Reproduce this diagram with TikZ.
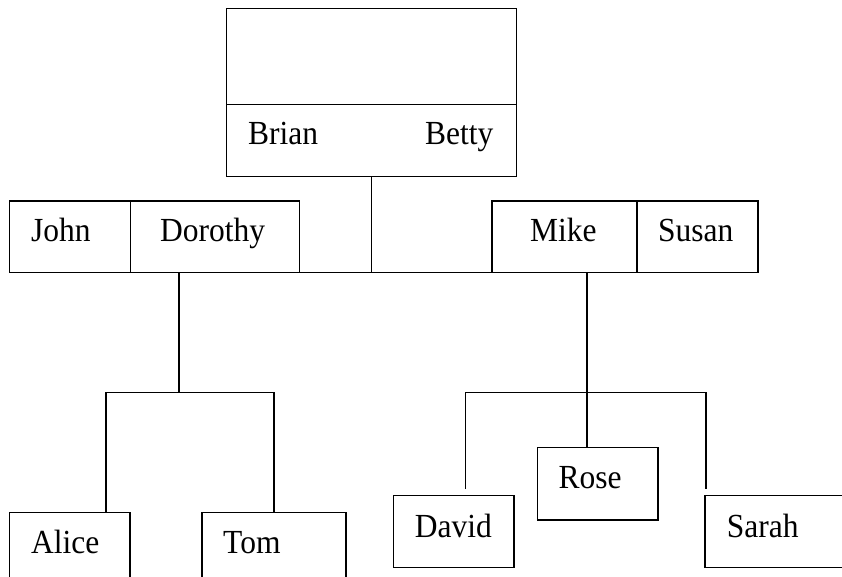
\documentclass[tikz,border=0pt]{standalone}
\usepackage{fontspec}
\setmainfont{Liberation Serif}
\newcommand{\nmtxt}[1]{\scalebox{1}[1.07]{#1}}
\begin{document}
\begin{tikzpicture}[x=1pt,y=-1pt,
  box/.style={draw, line width=1.5pt, inner sep=0pt, outer sep=0pt, anchor=north west},
  lbl/.style={anchor=base west, inner sep=0pt, font=\fontsize{31.5}{36}\selectfont},
  link/.style={line width=1.5pt}]
\useasboundingbox (0,0) rectangle (842,577);
\clip (0,0) rectangle (842,577);
% boxes
\node[box, minimum width=289.8pt, minimum height=96pt] (top) at (226.7,8.7) {};
\node[box, minimum width=289.8pt, minimum height=72pt] (couple) at (226.7,104.7) {};
\node[box, minimum width=120.9pt, minimum height=71.7pt] (john) at (9.7,201) {};
\node[box, minimum width=168.9pt, minimum height=71.7pt] (dorothy) at (130.6,201) {};
\node[box, minimum width=145pt, minimum height=71.7pt] (mike) at (492,201) {};
\node[box, minimum width=121pt, minimum height=71.7pt] (susan) at (637,201) {};
\node[box, minimum width=120.3pt, minimum height=100pt] (alice) at (9.7,512.7) {};
\node[box, minimum width=144pt, minimum height=100pt] (tom) at (202,512.7) {};
\node[box, minimum width=120.3pt, minimum height=72pt] (david) at (393.7,495.7) {};
\node[box, minimum width=120.4pt, minimum height=72.3pt] (rose) at (537.6,447.7) {};
\node[box, minimum width=200pt, minimum height=72pt] (sarah) at (705,495.7) {};
% labels
\node[lbl] (tBrian) at (248,145) {\nmtxt{Brian}};
\node[lbl] (tBetty) at (425,145) {\nmtxt{Betty}};
\node[lbl] (tJohn) at (31,241.5) {\nmtxt{John}};
\node[lbl] (tDorothy) at (160,241.5) {\nmtxt{Dorothy}};
\node[lbl] (tMike) at (530,241.5) {\nmtxt{Mike}};
\node[lbl] (tSusan) at (658,241.5) {\nmtxt{Susan}};
\node[lbl] (tAlice) at (31,553.5) {\nmtxt{Alice}};
\node[lbl] (tTom) at (223,553.5) {\nmtxt{Tom}};
\node[lbl] (tDavid) at (414.6,537) {\nmtxt{David}};
\node[lbl] (tRose) at (558.5,488) {\nmtxt{Rose}};
\node[lbl] (tSarah) at (726.6,537) {\nmtxt{Sarah}};
% junctions
\coordinate (lj) at (179,392.7);
\coordinate (la) at (105.8,392.7);
\coordinate (lt) at (274,392.7);
\coordinate (rj) at (587,392.7);
\coordinate (rd) at (465.6,392.7);
\coordinate (rs) at (706,392.7);
\coordinate (dend) at (465.6,489);
\coordinate (send) at (706,489);
% connectors
\draw[link] (couple.south) -- (couple.south |- dorothy.south);
\draw[link] (dorothy.south east) -- (mike.south west);
\draw[link] (dorothy.south -| lj) -- (lj);
\draw[link] (la |- alice.north) -- (la) -- (lt) -- (lt |- tom.north);
\draw[link] (mike.south -| rj) -- (rose.north -| rj);
\draw[link] (dend) -- (rd) -- (rs) -- (send);
\end{tikzpicture}
\end{document}
